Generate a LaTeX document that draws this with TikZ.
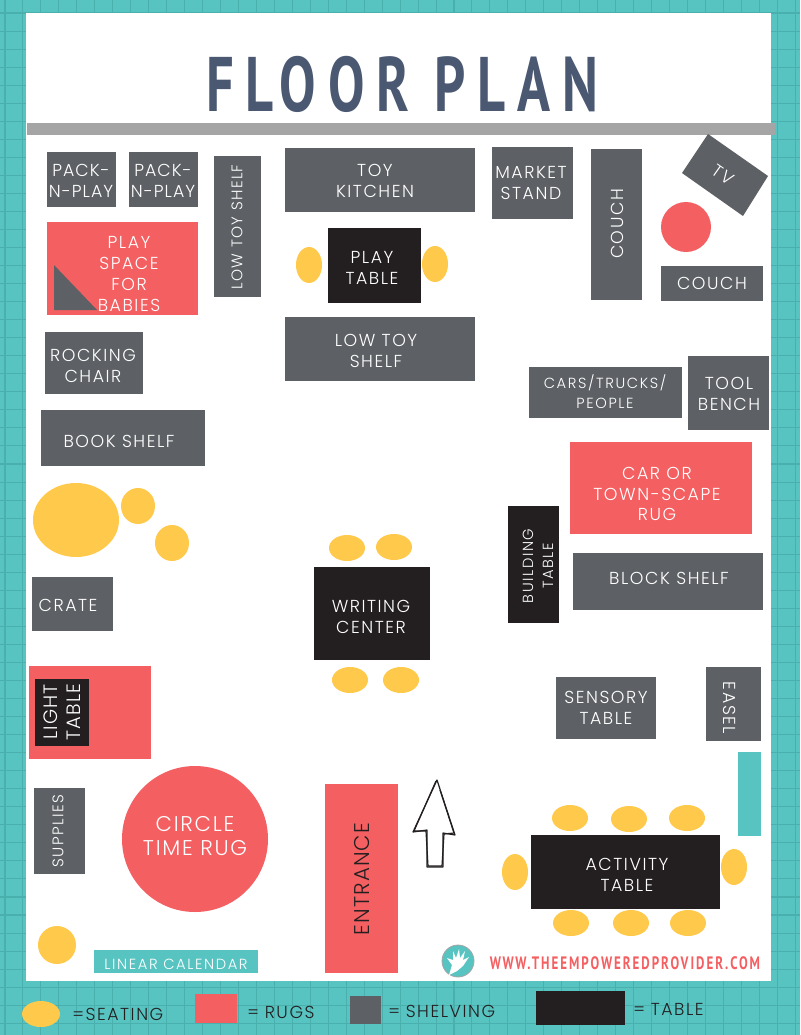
\documentclass[tikz,border=0pt]{standalone}
\usepackage{fontspec}
\setmainfont{Poppins}[UprightFont=* Light,BoldFont=* Medium]
\newfontfamily\titlefont[FakeStretch=0.705,LetterSpace=15]{PT Sans Bold}
\newfontfamily\urlfont[FakeStretch=0.72,LetterSpace=11]{PT Sans Bold}
\definecolor{teal}{HTML}{57C4C2}
\definecolor{gridteal}{HTML}{4AB0AE}
\definecolor{shelfgray}{HTML}{5D6064}
\definecolor{rugred}{HTML}{F45F61}
\definecolor{tableblack}{HTML}{231F20}
\definecolor{seatyellow}{HTML}{FFC94B}
\definecolor{titleblue}{HTML}{4B5872}
\definecolor{bargray}{HTML}{A5A5A5}
\tikzset{
  shelf/.style={fill=shelfgray},
  rug/.style={fill=rugred},
  tbl/.style={fill=tableblack},
  seat/.style={fill=seatyellow},
  lbl/.style={text=white,align=center,inner sep=0pt,font=\fontsize{13}{15.6}\selectfont\addfontfeatures{LetterSpace=9}},
  tight/.style={lbl,font=\fontsize{13}{15.6}\selectfont\addfontfeatures{LetterSpace=6}},
  narrow/.style={lbl,font=\fontsize{11.5}{14}\selectfont\addfontfeatures{LetterSpace=9}},
  small/.style={lbl,font=\fontsize{11}{15}\selectfont\addfontfeatures{LetterSpace=11}},
  big/.style={lbl,font=\fontsize{14.5}{17}\selectfont\addfontfeatures{LetterSpace=6}},
  legend/.style={lbl,text=tableblack,anchor=west},
  sketch/.style={draw=tableblack,line width=0.9pt,line join=round}
}
\begin{document}
\begin{tikzpicture}[x=0.75pt,y=-0.75pt]
\useasboundingbox (0,0) rectangle (800,1035);
\fill[teal] (0,0) rectangle (800,1035);
\foreach \i in {0,...,44} {\draw[gridteal,line width=0.8pt] (5+17.96*\i,0) -- (5+17.96*\i,1035);}
\foreach \i in {0,...,56} {\draw[gridteal,line width=0.8pt] (0,13+18.04*\i) -- (800,13+18.04*\i);}
\fill[white] (26,13) rectangle (771,981);
\fill[bargray] (27,123) rectangle (775,135);
\node[text=titleblue,inner sep=0pt,font=\titlefont\bfseries\fontsize{58}{60}\selectfont] (title) at (402,84) {FLOOR PLAN};

%left wall
\fill[shelf] (47,152) rectangle (116,207);
\node[tight] (packa) at (81,181) {PACK-\\N-PLAY};
\fill[shelf] (129,152) rectangle (198,207);
\node[tight] (packb) at (163,181) {PACK-\\N-PLAY};
\fill[rug] (47,222) rectangle (198,315);
\fill[shelf] (54,265) -- (54,310) -- (97,310) -- cycle;
\node[lbl] (playspace) at (129,274) {PLAY\\SPACE\\FOR\\BABIES};
\fill[shelf] (214,156) rectangle (261,297);
\node[narrow,rotate=90] (lowshelfa) at (237,227) {LOW TOY SHELF};
\fill[shelf] (45,332) rectangle (143,394);
\node[lbl] (rocking) at (93,366) {ROCKING\\CHAIR};
\fill[shelf] (41,410) rectangle (205,466);
\node[lbl] (bookshelf) at (119,441) {BOOK SHELF};
\fill[seat] (76,520) ellipse (43 and 37);
\fill[seat] (138,506) ellipse (17 and 18);
\fill[seat] (172,543) ellipse (17 and 18);
\fill[shelf] (32,577) rectangle (113,631);
\node[lbl] (crate) at (68,605) {CRATE};
\fill[rug] (29,666) rectangle (151,759);
\fill[tbl] (35,679) rectangle (89,746);
\node[big,rotate=90] (lighttable) at (62,712) {LIGHT\\TABLE};
\fill[shelf] (34,788) rectangle (85,874);
\node[narrow,rotate=90] (supplies) at (58,831) {SUPPLIES};
\fill[rug] (195,839) circle (73);
\node[big,font=\fontsize{16}{18.5}\selectfont\addfontfeatures{LetterSpace=8}] (circlerug) at (195,836) {CIRCLE\\TIME RUG};
\fill[seat] (57,945) circle (19);
\fill[teal] (94,950) rectangle (258,973);
\node[small] (calendar) at (176,964) {LINEAR CALENDAR};

%middle
\fill[shelf] (285,148) rectangle (475,212);
\node[lbl] (kitchen) at (375,181) {TOY\\KITCHEN};
\fill[tbl] (328,228) rectangle (421,303);
\node[lbl] (playtable) at (372,268) {PLAY\\TABLE};
\fill[seat] (309,265) ellipse (13 and 18);
\fill[seat] (435,264) ellipse (13 and 18);
\fill[shelf] (285,317) rectangle (475,381);
\node[lbl] (lowshelfb) at (376,351) {LOW TOY\\SHELF};
\fill[tbl] (314,567) rectangle (430,660);
\node[lbl] (writing) at (371,617) {WRITING\\CENTER};
\fill[seat] (347,548) ellipse (18 and 13);
\fill[seat] (394,547) ellipse (18 and 13);
\fill[seat] (350,680) ellipse (18 and 13);
\fill[seat] (401,680) ellipse (18 and 13);
\fill[rug] (325,784) rectangle (398,973);
\node[big,text=tableblack,font=\fontsize{16}{18.5}\selectfont\addfontfeatures{LetterSpace=5},rotate=90] (entrance) at (362,879) {ENTRANCE};
\draw[sketch] (437,780) -- (413,832) -- (427,830) -- (427,867) -- (443,867) -- (443,833) -- (455,835) -- cycle;
\draw[sketch] (436,781) -- (414,831) -- (426,831) -- (428,866) -- (442,866) -- (444,834) -- (454,833) -- (440,790);

%right wall
\fill[shelf] (492,147) rectangle (573,219);
\node[lbl] (market) at (531,183) {MARKET\\STAND};
\fill[shelf] (591,149) rectangle (642,300);
\node[lbl,rotate=90] (coucha) at (617,224) {COUCH};
\fill[shelf] (708,134) -- (768,176) -- (743,216) -- (682,173) -- cycle;
\node[lbl,rotate=-35] (tv) at (723,175) {TV};
\fill[rug] (686,227) circle (25);
\fill[shelf] (661,266) rectangle (763,301);
\node[lbl] (couchb) at (712,283) {COUCH};
\fill[shelf] (529,367) rectangle (682,418);
\node[small] (cars) at (605,392) {CARS/TRUCKS/\\PEOPLE};
\fill[shelf] (688,356) rectangle (769,430);
\node[lbl] (tool) at (729,394) {TOOL\\BENCH};
\fill[rug] (570,442) rectangle (752,534);
\node[lbl] (carrug) at (657,494) {CAR OR\\TOWN-SCAPE\\RUG};
\fill[tbl] (508,506) rectangle (559,623);
\node[small,rotate=90] (building) at (538,566) {BUILDING\\TABLE};
\fill[shelf] (573,553) rectangle (763,610);
\node[lbl] (blockshelf) at (669,578) {BLOCK SHELF};
\fill[shelf] (556,677) rectangle (656,739);
\node[lbl] (sensory) at (606,708) {SENSORY\\TABLE};
\fill[shelf] (706,667) rectangle (761,741);
\node[lbl,rotate=-90] (easel) at (730,708) {EASEL};
\fill[teal] (738,752) rectangle (761,836);
\fill[tbl] (531,835) rectangle (720,909);
\node[lbl] (activity) at (627,875) {ACTIVITY\\TABLE};
\foreach \x/\y in {570/818,629/819,687/818,571/923,631/923,688/923} {\fill[seat] (\x,\y) ellipse (18 and 13);}
\fill[seat] (515,872) ellipse (13 and 18);
\fill[seat] (734,867) ellipse (13 and 18);

%logo and web address
\filldraw[fill=teal,draw=bargray,line width=0.6pt] (458,961) circle (16);
\fill[white] (449,975) -- (452,965) -- (447,958) -- (453,960) -- (453,951) -- (456,958) -- (459,949) -- (460,958) -- (465,951) -- (463,960) -- (469,957) -- (463,966) -- (457,971) -- cycle;
\node[inner sep=0pt,text=rugred,font=\urlfont\bfseries\fontsize{13.5}{16}\selectfont] (url) at (625,963) {WWW.THEEMPOWEREDPROVIDER.COM};

%legend
\fill[seat] (41,1014) ellipse (19 and 13);
\node[legend] (seatkey) at (72,1014) {=SEATING};
\fill[rug] (195,994) rectangle (237,1023);
\node[legend] (rugkey) at (247,1012) {=\,\,RUGS};
\fill[shelf] (350,996) rectangle (381,1024);
\node[legend] (shelfkey) at (388,1011) {=\,\,SHELVING};
\fill[tbl] (536,991) rectangle (625,1025);
\node[legend] (tablekey) at (633,1009) {=\,\,TABLE};
\end{tikzpicture}
\end{document}
